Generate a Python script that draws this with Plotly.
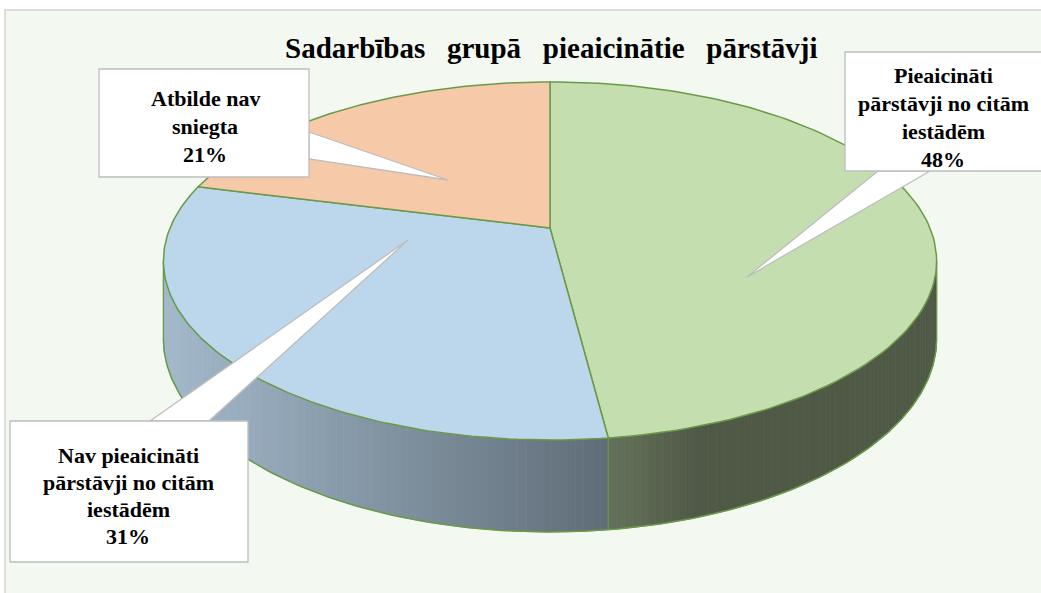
import numpy as np
import plotly.graph_objects as go

# ---------------- data ----------------
categories = ["Pieaicināti pārstāvji no citām iestādēm",
              "Nav pieaicināti pārstāvji no citām iestādēm",
              "Atbilde nav sniegta"]
values = [48, 31, 21]
label_lines = [["Pieaicināti", "pārstāvji no citām", "iestādēm"],
               ["Nav pieaicināti", "pārstāvji no citām", "iestādēm"],
               ["Atbilde nav", "sniegta"]]
chart_title_words = ["Sadarbības", "grupā", "pieaicinātie", "pārstāvji"]

# ---------------- style / layout ----------------
W, H = 1041, 593
top_colors = [(197, 222, 176), (188, 214, 235), (246, 201, 169)]
edge_color = "#6A9A48"
box_line = "#BDBDBD"
FONT = "Times New Roman, Liberation Serif, DejaVu Serif, serif"

CX, CY = 550, 228          # pie centre (pixels)
RX, RY = 380, 173          # radii
PB = 0.184                 # perspective factor
DEPTH = 75                 # side depth

# callout boxes: x0, x1, y0, y1, text centre x, first line y, line step
boxes = [
    dict(x0=845, x1=1048, y0=52, y1=171, tx=943, ty=75, step=28,
         base=[(878, 171), (930, 171)], tip=(747, 277)),
    dict(x0=10, x1=248, y0=421, y1=562, tx=128, ty=455, step=27,
         base=[(150, 421), (209, 421)], tip=(408, 240)),
    dict(x0=99, x1=309, y0=69, y1=177, tx=205, ty=98, step=28,
         base=[(309, 132), (309, 159)], tip=(448, 180)),
]


def proj(phi_deg, drop=0.0):
    p = np.radians(phi_deg)
    u, v = np.sin(p), -np.cos(p)
    k = 1.0 / (1.0 - PB * v)
    return CX + RX * u * k, CY + RY * v * k + drop * k


def rgb(c, f=1.0):
    return "rgb(%d,%d,%d)" % tuple(int(round(min(255, x * f))) for x in c)


total = float(sum(values))
fracs = [v / total for v in values]
starts = np.concatenate([[0], np.cumsum(fracs)[:-1]]) * 360
ends = np.cumsum(fracs) * 360

phi_r = np.degrees(np.arccos(-PB))
phi_l = 360 - phi_r

fig = go.Figure()

# ---- side walls (gradient segments) ----
for i in range(len(values)):
    a0, a1 = max(starts[i], phi_r), min(ends[i], phi_l)
    if a1 <= a0:
        continue
    n = max(2, int((a1 - a0) / 1.0))
    edges = np.linspace(a0, a1, n + 1)
    for j in range(n):
        arc = np.linspace(edges[j], edges[j + 1], 4)
        tx, ty = proj(arc)
        bx, by = proj(arc[::-1], DEPTH)
        xm = tx.mean()
        f = np.interp(xm, [170, 620, 700, 940], [0.86, 0.50, 0.40, 0.40])
        col = rgb(top_colors[i], f)
        fig.add_trace(go.Scatter(
            x=np.concatenate([tx, bx, tx[:1]]), y=np.concatenate([ty, by, ty[:1]]),
            mode="lines", fill="toself", fillcolor=col,
            line=dict(color=col, width=0.8), hoverinfo="skip", showlegend=False))

# ---- side outlines ----
arc = np.linspace(phi_r, phi_l, 200)
bx, by = proj(arc, DEPTH)
fig.add_trace(go.Scatter(x=bx, y=by, mode="lines", line=dict(color=edge_color, width=1.5),
                         hoverinfo="skip", showlegend=False))
vert = [phi_r, phi_l] + [e for e in ends[:-1] if phi_r < e < phi_l]
for a in vert:
    x0, y0 = proj(a)
    x1, y1 = proj(a, DEPTH)
    fig.add_trace(go.Scatter(x=[x0, x1], y=[y0, y1], mode="lines",
                             line=dict(color=edge_color, width=1.2),
                             hoverinfo="skip", showlegend=False))

# ---- top faces ----
for i in range(len(values)):
    arc = np.linspace(starts[i], ends[i], 120)
    tx, ty = proj(arc)
    xs = np.concatenate([[CX], tx, [CX]])
    ys = np.concatenate([[CY], ty, [CY]])
    fig.add_trace(go.Scatter(
        x=xs, y=ys, mode="lines", fill="toself", fillcolor=rgb(top_colors[i]),
        line=dict(color=edge_color, width=1.5), name=categories[i],
        text=["%s: %d%%" % (categories[i], round(fracs[i] * 100))] * len(xs),
        hoverinfo="text", showlegend=False))

# ---- callout pointers ----
for b in boxes:
    (x1, y1), (x2, y2) = b["base"]
    tx, ty = b["tip"]
    fig.add_trace(go.Scatter(
        x=[x1, tx, x2, x1], y=[y1, ty, y2, y1], mode="lines", fill="toself",
        fillcolor="white", line=dict(color=box_line, width=1.3),
        hoverinfo="skip", showlegend=False))

shapes = [dict(type="rect", xref="x", yref="y", x0=5, y0=10, x1=1060, y1=610,
               fillcolor="#F3F8F1", line=dict(color="#D4D4D4", width=1.5), layer="below")]
title_text = "&nbsp;&nbsp;&nbsp;".join(chart_title_words)
annotations = [dict(x=551, y=48, xref="x", yref="y", text="<b>%s</b>" % title_text,
                    showarrow=False, font=dict(family=FONT, size=29, color="black"),
                    xanchor="center", yanchor="middle")]

for i, b in enumerate(boxes):
    shapes.append(dict(type="rect", xref="x", yref="y", x0=b["x0"], x1=b["x1"],
                       y0=b["y0"], y1=b["y1"], fillcolor="white",
                       line=dict(color=box_line, width=1.3), layer="above"))
    lines = label_lines[i] + ["%d%%" % round(fracs[i] * 100)]
    for j, t in enumerate(lines):
        annotations.append(dict(x=b["tx"], y=b["ty"] + j * b["step"], xref="x", yref="y",
                                text="<b>%s</b>" % t, showarrow=False,
                                font=dict(family=FONT, size=22, color="black"),
                                xanchor="center", yanchor="middle"))

fig.update_layout(
    width=W, height=H, autosize=False,
    margin=dict(l=0, r=0, t=0, b=0),
    paper_bgcolor="white", plot_bgcolor="white",
    font=dict(family=FONT),
    xaxis=dict(range=[0, W], visible=False, fixedrange=True),
    yaxis=dict(range=[H, 0], visible=False, fixedrange=True),
    shapes=shapes, annotations=annotations, showlegend=False,
)

fig.write_html("out.html", config={"displayModeBar": False},
               post_script="document.body.style.margin='0';"
                           "document.body.style.overflow='hidden';"
                           "document.documentElement.style.overflow='hidden';")
